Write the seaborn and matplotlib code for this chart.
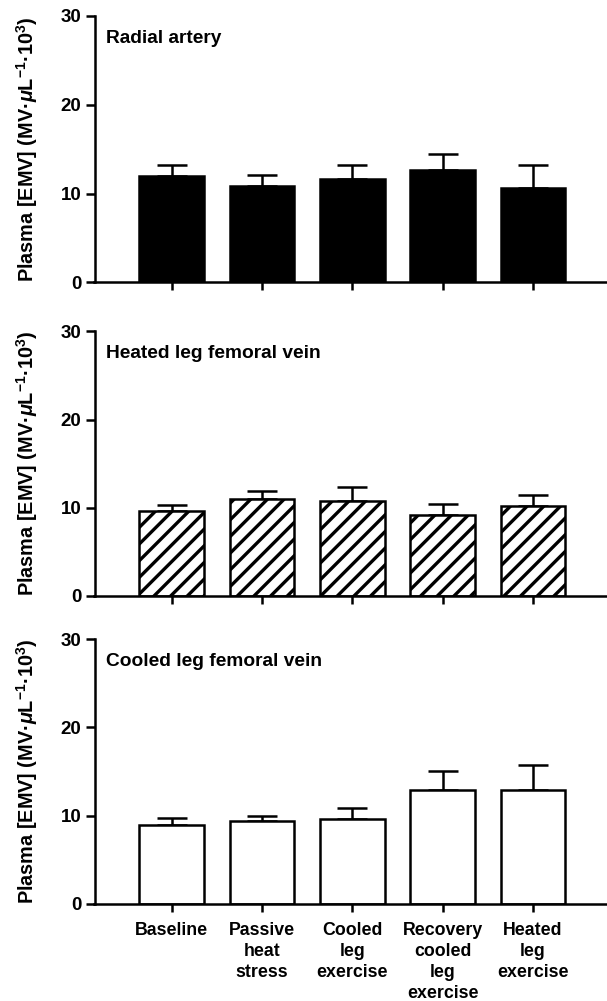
import numpy as np
import pandas as pd
import matplotlib
matplotlib.use("Agg")
import matplotlib.pyplot as plt
import seaborn as sns

categories = ["Baseline", "Passive\nheat\nstress", "Cooled\nleg\nexercise",
              "Recovery\ncooled\nleg\nexercise", "Heated\nleg\nexercise"]
radial_mean = [12.0, 10.85, 11.65, 12.65, 10.65]
radial_err = [1.2, 1.25, 1.6, 1.8, 2.6]
heated_mean = [9.65, 10.95, 10.75, 9.15, 10.15]
heated_err = [0.65, 1.0, 1.65, 1.25, 1.25]
cooled_mean = [8.95, 9.4, 9.6, 12.85, 12.85]
cooled_err = [0.75, 0.6, 1.25, 2.25, 2.85]
panel_titles = ["Radial artery", "Heated leg femoral vein", "Cooled leg femoral vein"]
y_ticks = [0, 10, 20, 30]
y_label = "Plasma [EMV] (MV\u00b7$\\mu$L$^{-1}$\u00b710$^{3}$)"

sns.set_style("ticks")
plt.rcParams["font.family"] = ["Liberation Sans", "DejaVu Sans"]
plt.rcParams["font.weight"] = "bold"
plt.rcParams["axes.labelweight"] = "bold"
for k in ["text.color", "axes.labelcolor", "xtick.color", "ytick.color", "axes.edgecolor"]:
    plt.rcParams[k] = "black"
plt.rcParams["mathtext.fontset"] = "custom"
plt.rcParams["mathtext.rm"] = "Liberation Sans:bold"
plt.rcParams["mathtext.it"] = "Liberation Sans:italic:bold"
plt.rcParams["mathtext.bf"] = "Liberation Sans:bold"
plt.rcParams["hatch.linewidth"] = 2.4

fig = plt.figure(figsize=(6.07, 10.01), dpi=100)
left = 94.5 / 607
width = 1 - left
bottoms_px = [282.3, 596.0, 904.0]
tops_px = [16.0, 331.3, 639.0]

series = [(radial_mean, radial_err), (heated_mean, heated_err), (cooled_mean, cooled_err)]
styles = [dict(color="black", hatch=None), dict(color="white", hatch="//"),
          dict(color="white", hatch=None)]
lw = 1.8

for i in range(3):
    b = (1001 - bottoms_px[i]) / 1001
    h = (bottoms_px[i] - tops_px[i]) / 1001
    ax = fig.add_axes([left, b, width, h])
    mean, err = series[i]
    df = pd.DataFrame({"cond": categories, "val": mean})
    kw = dict(edgecolor="black", linewidth=lw)
    if styles[i]["hatch"]:
        kw["hatch"] = styles[i]["hatch"]
    sns.barplot(data=df, x="cond", y="val", order=categories, color=styles[i]["color"],
                saturation=1, width=0.715, ax=ax, errorbar=None, zorder=2, **kw)
    pos = np.arange(len(categories))
    ax.errorbar(pos, mean, yerr=[np.zeros(len(err)), err], fmt="none", ecolor="black",
                elinewidth=lw, capsize=11, capthick=lw, zorder=1)
    ax.set_ylim(0, 30)
    ax.set_yticks(y_ticks)
    ax.set_xlim(-0.854, 4.82)
    sns.despine(ax=ax)
    for s in ["left", "bottom"]:
        ax.spines[s].set_linewidth(lw)
    ax.tick_params(axis="y", length=6.5, width=lw, labelsize=13.5, pad=3)
    ax.tick_params(axis="x", length=6, width=lw, labelsize=12.8, pad=7)
    ax.set_ylabel(y_label, fontsize=14.3, fontweight="bold")
    ax.yaxis.set_label_coords(-0.106, 0.5)
    ax.set_xlabel("")
    ax.text(0.0224, 0.8986, panel_titles[i], transform=ax.transAxes, fontsize=13.8,
            fontweight="bold", va="baseline", ha="left")
    if i < 2:
        ax.tick_params(axis="x", labelbottom=False)
    else:
        for t in ax.get_xticklabels():
            t.set_linespacing(1.3)
            t.set_fontweight("bold")
    for t in ax.get_yticklabels():
        t.set_fontweight("bold")

fig.savefig("out.png", dpi=100)
